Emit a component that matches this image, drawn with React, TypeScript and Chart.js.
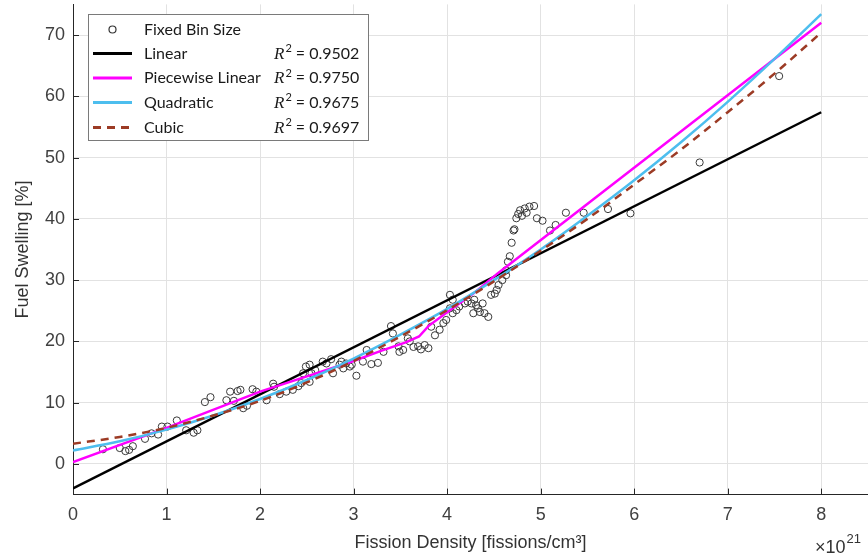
import React, { useEffect, useRef } from "react";
import { Chart, registerables } from "chart.js";

Chart.register(...registerables);

// ---------- data ----------
const binX = [
  0.32, 0.5, 0.56, 0.6, 0.64, 0.77, 0.84, 0.91, 0.95, 1.01, 1.11, 1.21, 1.29, 1.33,
  1.41, 1.47, 1.64, 1.68, 1.72, 1.76, 1.79, 1.82, 1.86, 1.92, 1.96, 2.07, 2.14, 2.15,
  2.21, 2.28, 2.35, 2.41, 2.44, 2.46, 2.49, 2.53, 2.55, 2.59, 2.53, 2.67, 2.71, 2.76,
  2.78, 2.85, 2.92, 2.96, 3.03, 2.87, 2.89, 2.98, 3.1, 3.14, 3.19, 3.26, 3.32, 3.4,
  3.42, 3.48, 3.49, 3.53, 3.58, 3.6, 3.64, 3.69, 3.72, 3.76, 3.8, 3.87, 3.83, 3.92,
  3.96, 3.99, 4.03, 4.06, 4.1, 4.13, 4.19, 4.22, 4.26, 4.29, 4.31, 4.35, 4.38, 4.4,
  4.44, 4.47, 4.51, 4.06, 4.03, 4.33, 4.28, 4.53, 4.55, 4.59, 4.63, 4.63, 4.65, 4.67,
  4.69, 4.71, 4.72, 4.74, 4.76, 4.78, 4.8, 4.83, 4.85, 4.88, 4.93, 4.96, 5.02, 5.1,
  5.16, 5.27, 5.46, 5.72, 5.96, 6.7, 7.55,
];
const binY = [
  2.4, 2.6, 2.1, 2.3, 2.9, 4.1, 5.0, 4.8, 6.1, 6.1, 7.1, 5.5, 5.1, 5.5,
  10.1, 10.9, 10.4, 11.8, 10.3, 11.9, 12.1, 9.1, 9.5, 12.2, 11.8, 10.4, 13.1, 12.6,
  11.4, 11.8, 12.1, 12.7, 13.2, 14.8, 15.9, 16.2, 14.8, 15.3, 13.4, 16.7, 16.4, 17.1,
  14.8, 16.2, 16.4, 15.9, 14.4, 16.7, 15.6, 16.2, 16.7, 18.6, 16.3, 16.5, 18.3, 22.5,
  21.3, 19.2, 18.3, 18.6, 20.5, 20.0, 19.1, 19.2, 18.7, 19.4, 18.9, 21.0, 22.4, 21.9,
  23.0, 23.5, 27.6, 24.6, 25.1, 25.7, 26.2, 26.5, 26.2, 26.8, 25.9, 24.8, 26.2, 24.6,
  24.0, 27.6, 27.8, 26.8, 25.4, 25.4, 24.6, 28.4, 29.2, 30.0, 30.8, 31.6, 33.0, 33.9,
  36.1, 38.1, 38.3, 40.1, 40.8, 41.4, 40.5, 41.7, 41.0, 42.0, 42.1, 40.1, 39.7, 38.1,
  39.0, 41.0, 41.0, 41.6, 40.9, 49.2, 63.3,
];

const linearX = [0, 8];
const linearY = [-4.0, 57.4];

const piecewiseX = [0, 1, 2, 2.5, 3, 3.3, 3.55, 3.7, 3.8, 3.96, 4.13, 4.28, 4.54, 8];
const piecewiseY = [0.3, 5.9, 11.8, 14.3, 16.8, 18.5, 19.8, 20.8, 22.5, 24.3, 26.2, 27.8, 31.1, 72.0];

const curveX = [0, 0.5, 1, 1.5, 2, 2.5, 3, 3.5, 4, 4.5, 5, 5.5, 6, 6.5, 7, 7.5, 8];
const quadraticY = [2.2, 3.7, 5.6, 7.9, 10.6, 13.7, 17.2, 21.1, 25.3, 30.0, 35.0, 40.5, 46.3, 52.5, 59.1, 66.1, 73.4];
const cubicY = [3.3, 4.4, 5.9, 7.9, 10.3, 13.3, 16.8, 20.8, 25.1, 29.8, 34.8, 40.0, 45.6, 51.3, 57.4, 63.7, 70.4];

const xTicks = [0, 1, 2, 3, 4, 5, 6, 7, 8];
const yTicks = [0, 10, 20, 30, 40, 50, 60, 70];

const seriesNames = ["Fixed Bin Size", "Linear", "Piecewise Linear", "Quadratic", "Cubic"];
const r2Values = ["", "0.9502", "0.9750", "0.9675", "0.9697"];
const seriesColors = ["#333333", "#000000", "#ff00ff", "#4dbeee", "#9c3b25"];

const xTitle = "Fission Density [fissions/cm³]";
const yTitle = "Fuel Swelling [%]";
const xExponent = "21";

const toPts = (xs: number[], ys: number[]) => xs.map((x, i) => ({ x, y: ys[i] }));

const SANS = "'Liberation Sans', Arial, sans-serif";
const LEG = "Lato, 'Open Sans', sans-serif";

const decorPlugin = {
  id: "decor",
  beforeDatasetsDraw(chart: any) {
    const { ctx, chartArea } = chart;
    const xs = chart.scales.x;
    const ys = chart.scales.y;
    ctx.save();
    ctx.strokeStyle = "#262626";
    ctx.lineWidth = 1;
    ctx.beginPath();
    xTicks.forEach((v) => {
      const px = Math.round(xs.getPixelForValue(v)) + 0.5;
      ctx.moveTo(px, chartArea.bottom);
      ctx.lineTo(px, chartArea.bottom - 6);
    });
    yTicks.forEach((v) => {
      const py = Math.round(ys.getPixelForValue(v)) + 0.5;
      ctx.moveTo(chartArea.left, py);
      ctx.lineTo(chartArea.left + 6, py);
    });
    ctx.stroke();
    ctx.restore();
  },
  afterDraw(chart: any) {
    const { ctx } = chart;
    ctx.save();
    // exponent label
    ctx.fillStyle = "#333333";
    ctx.textBaseline = "alphabetic";
    ctx.font = `18px ${SANS}`;
    ctx.fillText("×10", 815, 553);
    const w = ctx.measureText("×10").width;
    ctx.font = `13px ${SANS}`;
    ctx.fillText(xExponent, 815 + w + 1, 543);

    // legend box
    const bx = 88.5, by = 14.5, bw = 280, bh = 126;
    ctx.fillStyle = "#ffffff";
    ctx.fillRect(bx, by, bw, bh);
    ctx.strokeStyle = "#7a7a7a";
    ctx.lineWidth = 1;
    ctx.strokeRect(bx, by, bw, bh);
    const rows = [29.5, 53.5, 78, 102.5, 127.5];
    seriesNames.forEach((name, i) => {
      const y = rows[i];
      if (i === 0) {
        ctx.beginPath();
        ctx.arc(112.5, y, 3.5, 0, Math.PI * 2);
        ctx.strokeStyle = seriesColors[0];
        ctx.lineWidth = 1.2;
        ctx.stroke();
      } else {
        ctx.beginPath();
        ctx.strokeStyle = seriesColors[i];
        ctx.lineWidth = 3;
        ctx.setLineDash(i === 4 ? [8, 6] : []);
        ctx.moveTo(93, y);
        ctx.lineTo(132, y);
        ctx.stroke();
        ctx.setLineDash([]);
      }
      ctx.fillStyle = "#1a1a1a";
      ctx.textBaseline = "middle";
      ctx.font = `16px ${LEG}`;
      ctx.fillText(name, 144, y);
      if (r2Values[i]) {
        let x = 274;
        ctx.font = `italic 17px 'Liberation Serif', serif`;
        ctx.fillText("R", x, y + 1);
        x += ctx.measureText("R").width + 1;
        ctx.font = `11px ${LEG}`;
        ctx.fillText("2", x, y - 5);
        x += ctx.measureText("2").width + 4;
        ctx.font = `16px ${LEG}`;
        ctx.fillText("= " + r2Values[i], x, y);
      }
    });
    ctx.restore();
  },
};

export default function App() {
  const ref = useRef<HTMLCanvasElement>(null);
  useEffect(() => {
    if (!ref.current) return;
    const chart = new Chart(ref.current, {
      type: "scatter",
      data: {
        datasets: [
          {
            label: seriesNames[0],
            data: toPts(binX, binY),
            showLine: false,
            pointStyle: "circle",
            pointRadius: 3.6,
            pointBorderWidth: 1,
            pointBorderColor: "#3a3a3a",
            pointBackgroundColor: "rgba(0,0,0,0)",
            order: 5,
          },
          {
            label: seriesNames[1],
            data: toPts(linearX, linearY),
            showLine: true,
            borderColor: seriesColors[1],
            borderWidth: 2.5,
            pointRadius: 0,
            order: 4,
          },
          {
            label: seriesNames[2],
            data: toPts(piecewiseX, piecewiseY),
            showLine: true,
            borderColor: seriesColors[2],
            borderWidth: 2.5,
            pointRadius: 0,
            order: 3,
          },
          {
            label: seriesNames[3],
            data: toPts(curveX, quadraticY),
            showLine: true,
            borderColor: seriesColors[3],
            borderWidth: 2.5,
            pointRadius: 0,
            cubicInterpolationMode: "monotone",
            order: 2,
          },
          {
            label: seriesNames[4],
            data: toPts(curveX, cubicY),
            showLine: true,
            borderColor: seriesColors[4],
            borderWidth: 2.5,
            borderDash: [8, 6],
            pointRadius: 0,
            cubicInterpolationMode: "monotone",
            order: 1,
          },
        ],
      },
      options: {
        animation: false,
        responsive: true,
        maintainAspectRatio: false,
        layout: { autoPadding: false, padding: { top: 4.4, right: 0, left: 0, bottom: 0 } },
        plugins: { legend: { display: false }, tooltip: { enabled: false } },
        scales: {
          x: {
            type: "linear",
            min: 0,
            max: 8.5,
            afterFit: (s: any) => {
              s.height = 59.4;
              s.paddingLeft = 0;
              s.paddingRight = 0;
            },
            afterBuildTicks: (s: any) => {
              s.ticks = xTicks.map((v) => ({ value: v }));
            },
            grid: { color: "#e2e2e2", lineWidth: 1, drawTicks: false },
            border: { color: "#262626", width: 1 },
            ticks: {
              padding: 10,
              color: "#404040",
              font: { family: SANS, size: 18 },
              maxRotation: 0,
            },
            title: {
              display: true,
              text: xTitle,
              color: "#333333",
              font: { family: SANS, size: 18 },
              padding: { top: 0, bottom: 0 },
            },
          },
          y: {
            type: "linear",
            min: -5,
            max: 75,
            afterFit: (s: any) => {
              s.width = 73;
              s.paddingTop = 0;
              s.paddingBottom = 0;
            },
            afterBuildTicks: (s: any) => {
              s.ticks = yTicks.map((v) => ({ value: v }));
            },
            grid: { color: "#e2e2e2", lineWidth: 1, drawTicks: false },
            border: { color: "#262626", width: 1 },
            ticks: {
              padding: 8,
              color: "#404040",
              font: { family: SANS, size: 18 },
            },
            title: {
              display: true,
              text: yTitle,
              color: "#333333",
              font: { family: SANS, size: 18 },
              padding: { top: 12, bottom: 0 },
            },
          },
        },
      },
      plugins: [decorPlugin],
    });
    return () => chart.destroy();
  }, []);
  return (
    <div style={{ position: "fixed", left: 0, top: 0, width: 868, height: 554, background: "#fff" }}>
      <canvas ref={ref} />
    </div>
  );
}
